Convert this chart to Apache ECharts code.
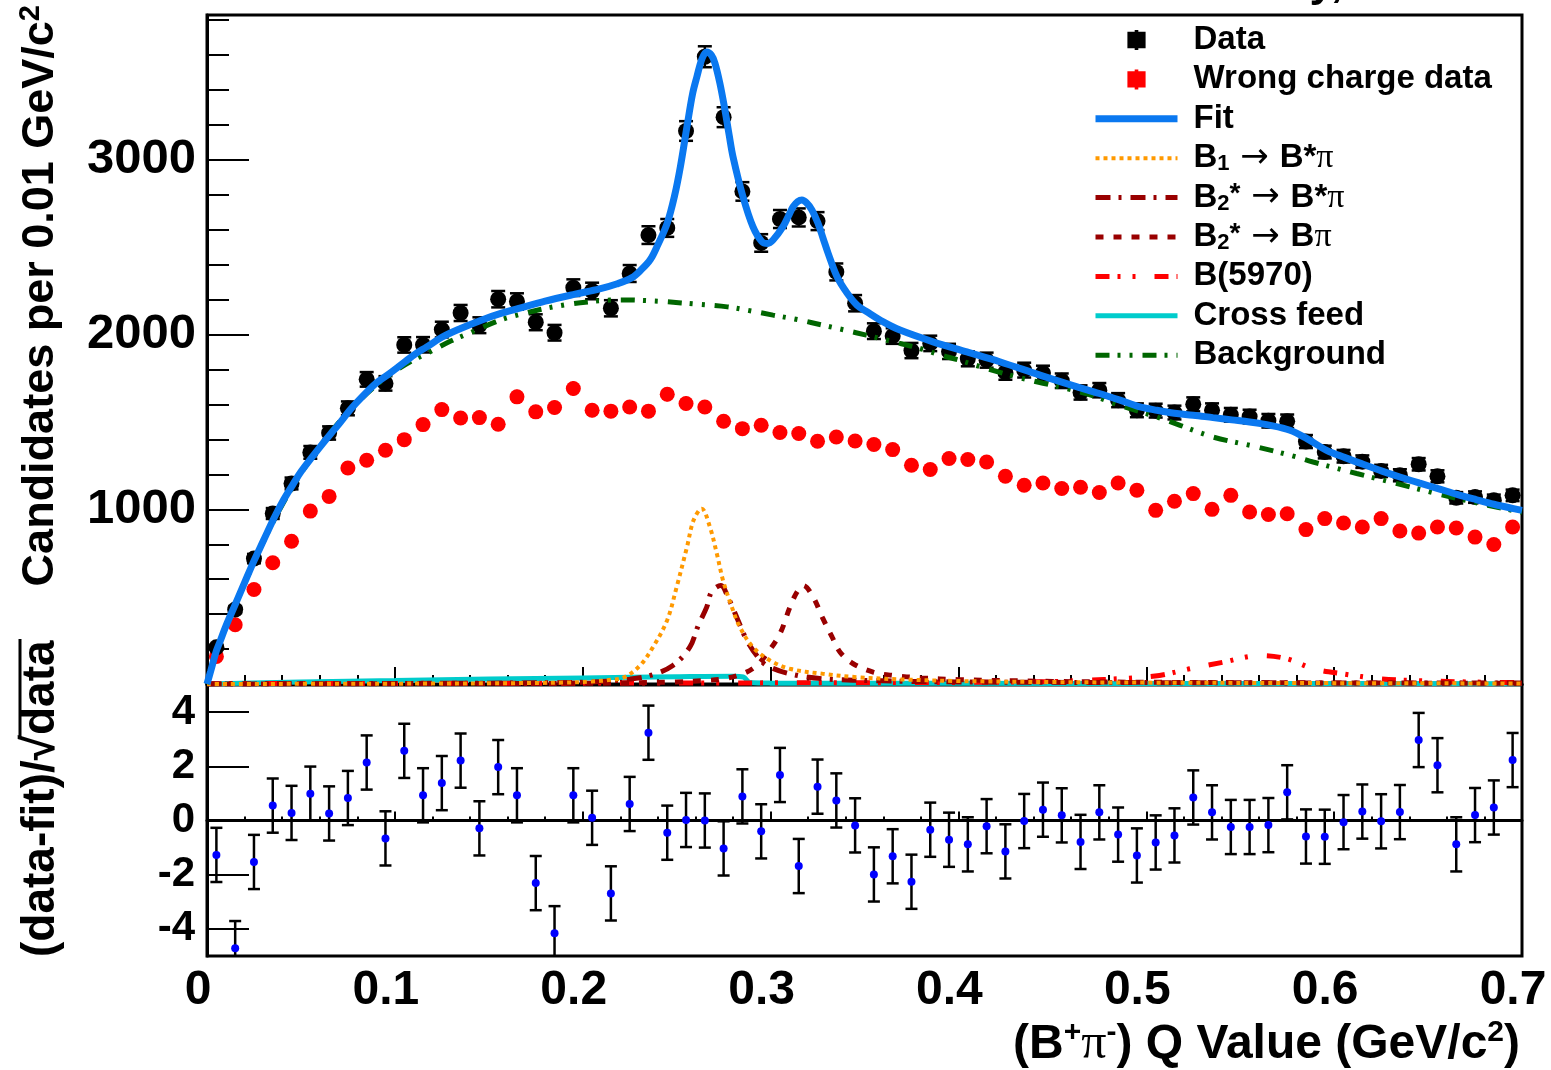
<!DOCTYPE html>
<html><head><meta charset="utf-8">
<script src="https://cdn.jsdelivr.net/npm/echarts@6/dist/echarts.min.js"></script>
<style>html,body{margin:0;padding:0;background:#fff}#c{width:1551px;height:1070px}</style>
</head><body><div id="c"></div>
<script>
// ---------------- data ----------------
const BIN_CENTERS = [0.005,0.015,0.025,0.035,0.045,0.055,0.065,0.075,0.085,0.095,
  0.105,0.115,0.125,0.135,0.145,0.155,0.165,0.175,0.185,0.195,
  0.205,0.215,0.225,0.235,0.245,0.255,0.265,0.275,0.285,0.295,
  0.305,0.315,0.325,0.335,0.345,0.355,0.365,0.375,0.385,0.395,
  0.405,0.415,0.425,0.435,0.445,0.455,0.465,0.475,0.485,0.495,
  0.505,0.515,0.525,0.535,0.545,0.555,0.565,0.575,0.585,0.595,
  0.605,0.615,0.625,0.635,0.645,0.655,0.665,0.675,0.685,0.695];
const DATA_COUNTS = [210,426,718,976,1148,1326,1437,1578,1744,1721,
  1941,1942,2029,2124,2054,2203,2190,2071,2011,2269,
  2250,2151,2350,2570,2611,3166,3591,3245,2820,2525,
  2662,2671,2650,2359,2180,2020,1992,1909,1950,1904,
  1862,1854,1784,1797,1780,1736,1669,1682,1625,1567,
  1565,1554,1601,1567,1541,1531,1507,1504,1388,1328,
  1304,1273,1220,1195,1258,1189,1066,1070,1052,1080];
const WRONG_COUNTS = [158,339,541,694,817,990,1074,1237,1281,1338,
  1399,1485,1571,1523,1525,1487,1644,1558,1583,1692,
  1567,1562,1586,1562,1659,1606,1586,1504,1462,1481,
  1440,1434,1390,1414,1391,1371,1342,1252,1228,1291,
  1285,1271,1189,1138,1151,1119,1126,1096,1151,1109,
  994,1046,1090,1000,1080,985,970,975,884,947,
  922,899,947,876,864,899,893,841,799,899];
const RESIDUALS = [-1.27,-4.71,-1.53,0.55,0.28,0.99,0.26,0.83,2.14,-0.66,
  2.57,0.93,1.38,2.21,-0.29,1.97,0.93,-2.31,-4.16,0.93,
  0.10,-2.69,0.61,3.24,-0.45,0.02,0.0,-1.03,0.89,-0.40,
  1.68,-1.68,1.25,0.74,-0.18,-1.99,-1.32,-2.26,-0.34,-0.71,
  -0.88,-0.21,-1.14,-0.02,0.40,0.19,-0.79,0.30,-0.52,-1.29,
  -0.81,-0.55,0.85,0.30,-0.24,-0.24,-0.17,1.04,-0.59,-0.60,
  -0.06,0.33,-0.03,0.31,2.97,2.04,-0.88,0.20,0.48,2.23];
const RESIDUAL_ERROR = 1.0;

const FIT_CURVE = [[0,0],[0.002,75],[0.005,190],[0.007,245],[0.010,330],[0.015,455],[0.020,580],[0.025,705],
  [0.030,820],[0.035,935],[0.040,1040],[0.046,1147],[0.050,1215],[0.056,1300],[0.060,1355],[0.066,1434],
  [0.070,1485],[0.076,1567],[0.080,1615],[0.086,1682],[0.090,1722],[0.096,1768],[0.100,1800],[0.106,1850],
  [0.111,1890],[0.117,1930],[0.125,1985],[0.135,2035],[0.146,2083],[0.156,2120],[0.166,2150],[0.180,2192],
  [0.196,2232],[0.209,2262],[0.218,2290],[0.226,2325],[0.231,2370],[0.236,2430],[0.240,2515],[0.245,2639],
  [0.249,2800],[0.252,2962],[0.2555,3191],[0.2585,3380],[0.2608,3477],[0.2635,3580],[0.2660,3618],[0.2685,3600],
  [0.2704,3554],[0.273,3440],[0.2757,3287],[0.278,3140],[0.280,3019],[0.2853,2790],[0.2906,2618],[0.2954,2532],
  [0.2985,2522],[0.3013,2542],[0.3066,2618],[0.310,2690],[0.312,2732],[0.3145,2762],[0.3167,2771],[0.319,2756],
  [0.322,2714],[0.3252,2639],[0.328,2550],[0.3306,2467],[0.3354,2331],[0.3407,2238],[0.346,2169],[0.3513,2131],
  [0.360,2073],[0.3689,2026],[0.3865,1959],[0.4045,1901],[0.422,1845],[0.4434,1768],[0.461,1708],[0.475,1663],
  [0.486,1625],[0.4956,1590],[0.5057,1567],[0.515,1550],[0.525,1539],[0.5355,1525],[0.5456,1512],[0.555,1500],
  [0.566,1481],[0.5765,1453],[0.5855,1405],[0.596,1338],[0.6058,1296],[0.6154,1258],[0.6255,1219],[0.635,1185],
  [0.6452,1151],[0.6553,1119],[0.6654,1086],[0.6755,1056],[0.685,1029],[0.6955,1004],[0.700,994]];
const BKG_CURVE = [[0,0],[0.002,75],[0.005,185],[0.010,330],[0.020,575],[0.030,815],[0.040,1025],[0.050,1205],
  [0.060,1360],[0.070,1495],[0.080,1610],[0.090,1710],[0.100,1790],[0.110,1855],[0.117,1892],[0.130,1965],
  [0.140,2010],[0.156,2083],[0.170,2125],[0.180,2150],[0.193,2175],[0.205,2190],[0.2145,2198],[0.2215,2199],
  [0.230,2197],[0.245,2188],[0.260,2175],[0.277,2159],[0.290,2135],[0.3013,2112],[0.315,2085],[0.328,2054],
  [0.340,2025],[0.351,1997],[0.365,1960],[0.3795,1921],[0.390,1885],[0.400,1855],[0.415,1806],[0.431,1758],
  [0.445,1722],[0.458,1690],[0.4717,1650],[0.482,1610],[0.4957,1562],[0.5057,1529],[0.518,1481],[0.5355,1414],
  [0.559,1357],[0.580,1300],[0.5888,1271],[0.612,1205],[0.6335,1147],[0.6547,1090],[0.6775,1033],[0.699,985],[0.700,983]];
const B1_CURVE = [[0,0],[0.10,2],[0.15,4],[0.19,8],[0.205,14],[0.215,24],[0.222,38],[0.2305,106],[0.2374,211],
  [0.2449,364],[0.250,555],[0.2555,784],[0.259,937],[0.2633,1004],[0.2677,899],[0.2714,746],[0.2747,593],
  [0.2794,440],[0.2837,325],[0.2906,211],[0.2997,135],[0.3103,87],[0.328,58],[0.346,39],[0.370,26],[0.400,17],
  [0.450,11],[0.500,8],[0.600,5],[0.700,3]];
const B2S_BSTARPI_CURVE = [[0,0],[0.10,3],[0.18,7],[0.21,14],[0.225,28],[0.236,49],[0.248,106],[0.257,211],
  [0.2615,335],[0.266,440],[0.2687,530],[0.2735,564],[0.2773,497],[0.2827,364],[0.2874,249],[0.2933,154],
  [0.298,106],[0.3103,58],[0.328,30],[0.360,18],[0.400,12],[0.500,8],[0.600,6],[0.700,5]];
const B2S_BPI_CURVE = [[0,0],[0.10,2],[0.20,4],[0.25,12],[0.265,20],[0.275,30],[0.285,58],[0.292,100],
  [0.298,173],[0.305,288],[0.3103,440],[0.314,525],[0.3174,564],[0.3227,497],[0.3275,383],[0.3328,268],
  [0.337,182],[0.344,116],[0.3546,68],[0.365,49],[0.380,35],[0.400,25],[0.450,15],[0.500,10],[0.600,6],[0.700,4]];
const B5970_CURVE = [[0,2],[0.20,5],[0.40,9],[0.45,14],[0.4647,20],[0.490,33],[0.507,49],[0.523,87],[0.541,125],
  [0.5605,163],[0.575,144],[0.589,87],[0.6047,58],[0.6244,30],[0.642,20],[0.670,12],[0.700,8]];
const CROSSFEED_CURVE = [[0,0],[0.05,12],[0.10,20],[0.15,28],[0.20,35],[0.25,42],[0.280,45],[0.2855,40],
  [0.289,8],[0.300,5],[0.400,4],[0.500,3],[0.600,3],[0.700,2]];
const RESID_TICKS = [-4,-2,0,2,4];

// ---------------- presentation ----------------
const F = "'Liberation Sans', Arial, Helvetica, sans-serif";
const S_DATA='Data', S_WRONG='Wrong charge data', S_FIT='Fit', S_B1='B1 → B*π', S_B2S='B2* → B*π',
      S_B2='B2* → Bπ', S_B5970='B(5970)', S_CF='Cross feed', S_BG='Background';
const LEGEND_RICH_LABELS = {};
LEGEND_RICH_LABELS[S_B1] = '{t|B}{sub|1}{ar| → }{t|B*}{pi|π}';
LEGEND_RICH_LABELS[S_B2S] = '{t|B}{sub|2}{sup|*}{ar| → }{t|B*}{pi|π}';
LEGEND_RICH_LABELS[S_B2] = '{t|B}{sub|2}{sup|*}{ar| → }{t|B}{pi|π}';

function errorBars(color, capHalf, lw) {
  return function (params, api) {
    const x = api.value(0), y = api.value(1), e = api.value(2);
    const a = api.coord([x, y + e]), b = api.coord([x, y - e]);
    const st = { stroke: color, lineWidth: lw };
    const ch = [{ type: 'line', shape: { x1: a[0], y1: a[1], x2: b[0], y2: b[1] }, style: st }];
    if (capHalf > 0) {
      ch.push({ type: 'line', shape: { x1: a[0] - capHalf, y1: a[1], x2: a[0] + capHalf, y2: a[1] }, style: st });
      ch.push({ type: 'line', shape: { x1: b[0] - capHalf, y1: b[1], x2: b[0] + capHalf, y2: b[1] }, style: st });
    }
    return { type: 'group', children: ch };
  };
}
const dataPts = BIN_CENTERS.map((x, i) => [x, DATA_COUNTS[i]]);
const dataErr = BIN_CENTERS.map((x, i) => [x, DATA_COUNTS[i], Math.sqrt(DATA_COUNTS[i])]);
const wrongPts = BIN_CENTERS.map((x, i) => [x, WRONG_COUNTS[i]]);
const wrongErr = BIN_CENTERS.map((x, i) => [x, WRONG_COUNTS[i], Math.sqrt(WRONG_COUNTS[i])]);
const resPts = BIN_CENTERS.map((x, i) => [x, RESIDUALS[i]]);
const resErr = BIN_CENTERS.map((x, i) => [x, RESIDUALS[i], RESIDUAL_ERROR]);

function curve(name, data, color, width, dash) {
  return { name, type: 'line', xAxisIndex: 0, yAxisIndex: 0, data, symbol: 'none', showSymbol: false,
    smooth: 0.35, silent: true,
    lineStyle: { color, width, type: dash || 'solid', cap: 'butt' }, itemStyle: { color } };
}
const black = '#000';
const xCommon = { type: 'value', min: 0, max: 0.7, interval: 0.1,
  axisLine: { show: true, lineStyle: { color: black, width: 3 } }, splitLine: { show: false }, minorSplitLine: { show: false } };
const ICON_BOX = 'path://M7,0h4v2h8v18h-8v2h-4v-2h-8v-18h8z';

const option = {
  animation: false,
  backgroundColor: '#fff',
  grid: [
    { left: 207, top: 15, width: 1315, height: 669, show: true, borderColor: black, borderWidth: 3, backgroundColor: 'transparent', containLabel: false, outerBoundsMode: 'none' },
    { left: 207, top: 685, width: 1315, height: 271, show: true, borderColor: black, borderWidth: 3, backgroundColor: 'transparent', containLabel: false, outerBoundsMode: 'none' }
  ],
  xAxis: [
    Object.assign({}, xCommon, { gridIndex: 0,
      axisTick: { show: true, inside: true, length: 17, lineStyle: { color: black, width: 2 } },
      minorTick: { show: true, splitNumber: 5, length: 9, lineStyle: { color: black, width: 2 } },
      axisLabel: { show: false } }),
    Object.assign({}, xCommon, { gridIndex: 1,
      axisTick: { show: true, inside: true, length: 9, lineStyle: { color: black, width: 2 } },
      minorTick: { show: true, splitNumber: 5, length: 4, lineStyle: { color: black, width: 2 } },
      axisLabel: { show: true, fontFamily: F, fontWeight: 'bold', fontSize: 48, color: black, margin: 11,
        padding: [0, 18, 0, 0],
        formatter: v => (Math.abs(v) < 1e-9 ? '0' : v.toFixed(1)) } })
  ],
  yAxis: [
    { type: 'value', gridIndex: 0, min: 0, max: 3830, interval: 1000, position: 'left',
      axisLine: { show: true, lineStyle: { color: black, width: 3 } },
      axisTick: { show: true, inside: true, length: 42, lineStyle: { color: black, width: 2 } },
      axisLabel: { show: true, fontFamily: F, fontWeight: 'bold', fontSize: 49, color: black, margin: 11,
        formatter: v => (v > 0 && v % 1000 === 0 ? String(v) : '') },
      splitLine: { show: false } },
    { type: 'value', gridIndex: 0, min: 0, max: 3830, interval: 200, position: 'left',
      axisLine: { show: false },
      axisTick: { show: true, inside: true, length: 22, lineStyle: { color: black, width: 2 } },
      axisLabel: { show: false }, splitLine: { show: false } },
    { type: 'value', gridIndex: 1, min: -5, max: 5, interval: 1, position: 'left',
      axisLine: { show: true, lineStyle: { color: black, width: 3 } },
      axisTick: { show: true, inside: true, length: 42, customValues: RESID_TICKS, lineStyle: { color: black, width: 2 } },
      axisLabel: { show: true, customValues: RESID_TICKS, fontFamily: F, fontWeight: 'bold', fontSize: 42, color: black, margin: 12 },
      splitLine: { show: false } }
  ],
  legend: {
    orient: 'vertical', left: 1092, top: 23, padding: 0, itemWidth: 82, itemHeight: 20, itemGap: 5.4,
    selectedMode: false,
    textStyle: { fontFamily: F, fontWeight: 'bold', fontSize: 33, color: black, lineHeight: 34, padding: [0, 0, 0, 11],
      rich: {
        t: { fontFamily: F, fontWeight: 'bold', fontSize: 33, color: black, lineHeight: 34 },
        sub: { fontFamily: F, fontWeight: 'bold', fontSize: 22, color: black, lineHeight: 14, verticalAlign: 'bottom' },
        sup: { fontFamily: F, fontWeight: 'bold', fontSize: 28, color: black, lineHeight: 20, verticalAlign: 'top' },
        ar: { fontFamily: "'DejaVu Sans'", fontWeight: 'normal', fontSize: 34, color: black, lineHeight: 34 },
        pi: { fontFamily: "'Liberation Serif'", fontWeight: 'normal', fontSize: 34, color: black, lineHeight: 34 }
      } },
    lineStyle: { width: 'inherit' },
    formatter: name => LEGEND_RICH_LABELS[name] || name,
    data: [
      { name: S_DATA, icon: ICON_BOX },
      { name: S_WRONG, icon: ICON_BOX },
      { name: S_FIT, itemStyle: { opacity: 0 } },
      { name: S_B1, itemStyle: { opacity: 0 } },
      { name: S_B2S, itemStyle: { opacity: 0 } },
      { name: S_B2, itemStyle: { opacity: 0 } },
      { name: S_B5970, itemStyle: { opacity: 0 } },
      { name: S_CF, itemStyle: { opacity: 0 } },
      { name: S_BG, itemStyle: { opacity: 0 } }
    ]
  },
  graphic: [
    { type: 'text', x: 1343, y: -16, silent: true,
      style: { text: 'CDF Run II Preliminary,', font: "bold 44px 'Liberation Sans'", fill: black, align: 'right', verticalAlign: 'middle' } },
    { type: 'text', x: 41, y: 5, rotation: Math.PI / 2, silent: true,
      style: { text: '{t|Candidates per 0.01 GeV/c}{sup|2}', align: 'right', verticalAlign: 'middle',
        rich: { t: { font: "bold 45px 'Liberation Sans'", fill: black, lineHeight: 50 },
                sup: { font: "bold 29px 'Liberation Sans'", fill: black, lineHeight: 27, verticalAlign: 'top' } } } },
    { type: 'text', x: 41, y: 957, rotation: Math.PI / 2, silent: true,
      style: { text: '(data-fit)/√data', font: "bold 46px 'Liberation Sans'", fill: black, align: 'left', verticalAlign: 'middle' } },
    { type: 'line', silent: true, shape: { x1: 20, y1: 639, x2: 20, y2: 738 }, style: { stroke: black, lineWidth: 3 } },
    { type: 'text', x: 1520, y: 1045, silent: true,
      style: { text: '{t|(B}{sup|+}{pi|π}{sup|-}{t|) Q Value (GeV/c}{sup|2}{t|)}', align: 'right', verticalAlign: 'middle',
        rich: { t: { font: "bold 48px 'Liberation Sans'", fill: black, lineHeight: 54 },
                sup: { font: "bold 30px 'Liberation Sans'", fill: black, lineHeight: 30, verticalAlign: 'top' },
                pi: { font: "50px 'Liberation Serif'", fill: black, lineHeight: 54 } } } }
  ],
  series: [
    curve(S_CF, CROSSFEED_CURVE, '#00cccc', 5),
    curve(S_B5970, B5970_CURVE, '#ff0000', 5, [14, 8, 3, 12, 3, 19]),
    curve(S_B2, B2S_BPI_CURVE, '#990000', 5, [8, 10]),
    curve(S_B2S, B2S_BSTARPI_CURVE, '#990000', 5, [15, 8, 3, 9]),
    curve(S_B1, B1_CURVE, '#ff9900', 4, [4, 4]),
    curve(S_BG, BKG_CURVE, '#006600', 5, [14, 8, 3, 9, 3, 10]),
    curve(S_FIT, FIT_CURVE, '#0a78f0', 7),
    { name: 'wrongErr', type: 'custom', xAxisIndex: 0, yAxisIndex: 0, data: wrongErr, encode: { x: 0, y: 1 },
      renderItem: errorBars('#ff0000', 0, 2.5), silent: true, clip: true },
    { name: S_WRONG, type: 'scatter', xAxisIndex: 0, yAxisIndex: 0, data: wrongPts, symbol: 'circle', symbolSize: 15,
      itemStyle: { color: '#ff0000', opacity: 1 }, silent: true },
    { name: 'dataErr', type: 'custom', xAxisIndex: 0, yAxisIndex: 0, data: dataErr, encode: { x: 0, y: 1 },
      renderItem: errorBars(black, 7, 2.5), silent: true, clip: true },
    { name: S_DATA, type: 'scatter', xAxisIndex: 0, yAxisIndex: 0, data: dataPts, symbol: 'circle', symbolSize: 16,
      itemStyle: { color: black, opacity: 1 }, silent: true },
    { name: 'resErr', type: 'custom', xAxisIndex: 1, yAxisIndex: 2, data: resErr, encode: { x: 0, y: 1 },
      renderItem: errorBars(black, 6, 2.5), silent: true, clip: true },
    { name: 'residuals', type: 'scatter', xAxisIndex: 1, yAxisIndex: 2, data: resPts, symbol: 'circle', symbolSize: 8,
      itemStyle: { color: '#0000ff', opacity: 1 }, silent: true, z: 5,
      markLine: { silent: true, symbol: 'none', label: { show: false }, animation: false,
        lineStyle: { color: black, width: 2, type: 'solid' }, data: [{ yAxis: 0 }] } }
  ]
};
const chart = echarts.init(document.getElementById('c'), null, { renderer: 'canvas' });
chart.setOption(option);
</script></body></html>
